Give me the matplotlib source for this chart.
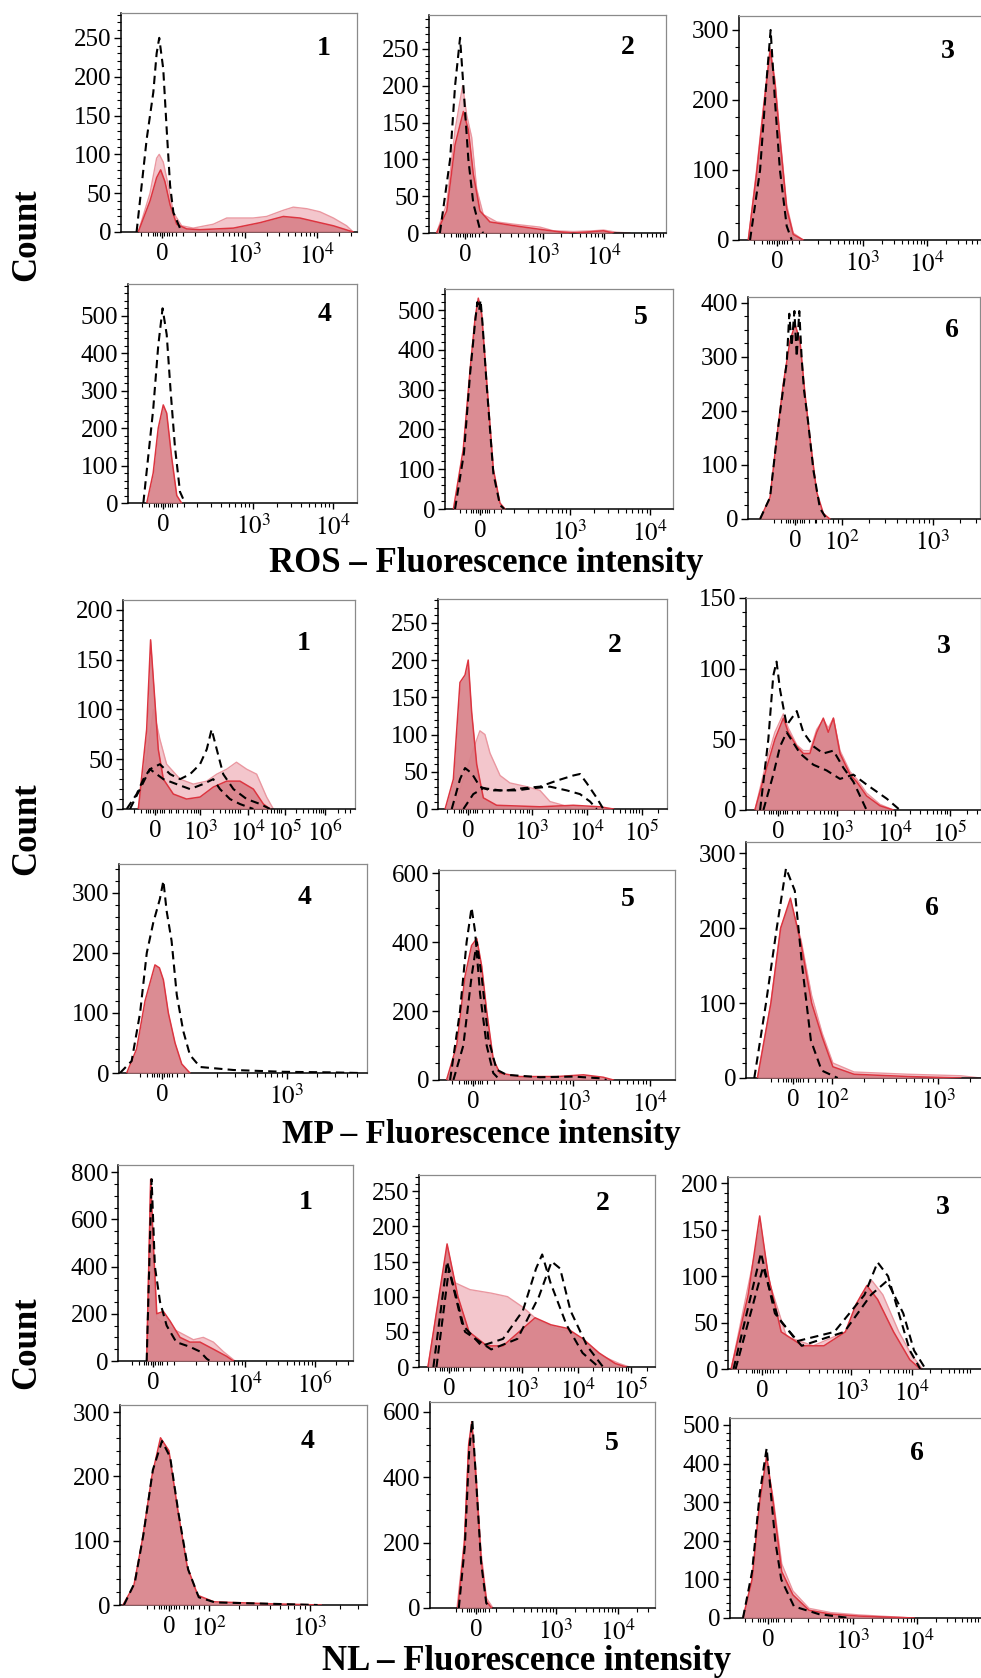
import numpy as np
import matplotlib
matplotlib.use("Agg")
from matplotlib import pyplot as plt

plt.rcParams['font.family'] = ['Liberation Serif', 'DejaVu Serif']
plt.rcParams['mathtext.fontset'] = 'stix'

# x values are positions across each panel (0-100), y values are counts

# ROS
ROS1_LIGHT = [(7.3, 0), (12.3, 50), (15.1, 95), (16.2, 100), (17.9, 90), (20, 60), (22.2, 25), (25.7, 8), (30.6, 5),
              (39.1, 10), (44.8, 18), (50.4, 18), (56, 18), (61.7, 20), (68.8, 28), (73, 32), (78.7, 30), (84.3, 26),
              (90, 18), (95.6, 8), (98.4, 0)]
ROS1_DARK = [(7.3, 0), (12.3, 40), (15.1, 70), (16.8, 80), (18.6, 65), (20.8, 35), (23.6, 10), (27.8, 4), (33.5, 3),
             (47.6, 5), (58.9, 12), (68.8, 20), (75.8, 18), (84.3, 12), (90, 8), (98.4, 0)]
ROS1_DASH = [[(6.6, 0), (10.9, 120), (13.7, 180), (15.1, 230), (16.2, 250), (17.9, 210), (19.4, 130), (20.8, 60),
              (22.2, 25), (25.7, 0)]]

ROS2_LIGHT = [(3.2, 0), (7.5, 40), (11, 140), (14.2, 200), (15.9, 160), (18, 130), (20.1, 60), (22.9, 25), (28.6, 15),
              (35.6, 12), (46.8, 8), (52.5, 3), (60.9, 2), (69.3, 3), (73.6, 4), (79.2, 1), (84.8, 0)]
ROS2_DARK = [(3.2, 0), (7.5, 30), (11, 120), (14.5, 165), (16.6, 140), (18.7, 80), (21.5, 30), (25.7, 15), (35.6, 10),
             (46.8, 5), (53.9, 2), (60.9, 0), (69.3, 2), (73.6, 3), (77.8, 0)]
ROS2_DASH = [[(4.6, 0), (8.9, 100), (11, 200), (13.1, 265), (14.5, 200), (16.6, 100), (18.7, 40), (21.5, 5), (22.9, 0)]]

ROS3_LIGHT = [(3.7, 0), (7, 100), (9.7, 190), (12.4, 275), (14.3, 230), (16.3, 150), (19, 50), (21.6, 10), (25.6, 0)]
ROS3_DARK = [(3.7, 0), (7, 95), (9.7, 185), (12.4, 270), (14.3, 225), (16.3, 145), (19, 45), (21.6, 8), (25.6, 0)]
ROS3_DASH = [[(4.4, 0), (8.4, 100), (10.8, 220), (12.6, 300), (14.3, 200), (16.3, 100), (19, 20), (21, 0)]]

ROS4_DARK = [(8.2, 0), (11, 80), (13.2, 200), (15.4, 262), (16.9, 240), (19.1, 120), (21.3, 20), (23.4, 0)]
ROS4_DASH = [[(6.7, 0), (11, 250), (13.2, 420), (15.1, 520), (16.9, 450), (18.6, 300), (20.5, 150), (22.7, 30),
              (24.9, 0)]]

ROS5_DARK = [(3.7, 0), (8, 150), (11, 350), (13.2, 480), (14.6, 530), (16.1, 490), (18.3, 320), (21.2, 100),
             (24.1, 15), (26.3, 0)]
ROS5_DASH = [[(4.4, 0), (8.3, 140), (11, 340), (13.2, 470), (14.2, 520), (15, 500), (15.6, 525), (16.4, 470),
              (18.3, 310), (21.2, 90), (24.1, 10), (26, 0)]]

ROS6_DARK = [(5.2, 0), (9.5, 40), (12.4, 150), (15.2, 250), (18.1, 330), (20.3, 360), (22.4, 330), (24.6, 230),
             (26.7, 150), (29.6, 50), (32.5, 10), (35.3, 0)]
ROS6_DASH = [[(5.2, 0), (9.5, 40), (12.4, 150), (14.5, 220), (16.7, 290), (17.8, 380), (18.8, 320), (20, 385),
              (21, 300), (22.1, 385), (23.1, 300), (24.1, 240), (25.9, 180), (28.2, 90), (31, 20), (33.9, 0)]]

# MP
MP1_LIGHT = [(6.6, 0), (10.2, 50), (13.1, 100), (15.9, 70), (18.8, 45), (24.6, 30), (30.3, 25), (36.1, 28), (40.4, 35),
             (44.7, 40), (48.9, 47), (53.3, 40), (57.6, 35), (61.9, 12), (64.8, 0)]
MP1_DARK = [(6.6, 0), (10.2, 80), (11.9, 170), (13.4, 120), (15.2, 60), (17.4, 30), (21.7, 15), (27.4, 10), (33.2, 12),
            (38.9, 22), (44.7, 28), (50.4, 28), (56.2, 20), (60.5, 5), (63.4, 0)]
MP1_DASH = [[(1.6, 0), (5.9, 15), (8.8, 30), (11.6, 40), (15.9, 45), (20.3, 35), (24.6, 30), (28.9, 35), (33.2, 45),
             (36.1, 60), (38.2, 80), (40.4, 60), (43.2, 35), (47.6, 20), (53.3, 10), (59.1, 5), (63.4, 0)],
            [(3, 0), (7.3, 20), (11.6, 40), (17.4, 30), (23.1, 25), (28.9, 20), (34.5, 25), (38.9, 30), (41.8, 20),
             (46.1, 10), (50.4, 5), (56.2, 0)]]

MP2_LIGHT = [(6.7, 0), (11.1, 40), (15.4, 80), (18.3, 105), (20.5, 100), (22.7, 75), (27.1, 45), (31.4, 35),
             (38.7, 30), (44.5, 25), (48.9, 10), (54.7, 5), (59.1, 0)]
MP2_DARK = [(3.1, 0), (6.7, 40), (9.6, 170), (11.8, 180), (13.2, 200), (14.7, 130), (16.9, 60), (19.8, 15), (25.6, 5),
            (44.5, 3), (59.1, 5), (70.7, 3), (76.6, 0)]
MP2_DASH = [[(6, 0), (9.6, 40), (11.8, 55), (14.7, 48), (18.3, 30), (22.7, 25), (30, 25), (37.3, 28), (44.5, 30),
             (51.8, 38), (59.1, 45), (62, 47), (64.9, 35), (69.3, 15), (72.2, 0)],
            [(11.1, 0), (15.4, 20), (19.8, 28), (27.1, 25), (34.4, 25), (41.6, 28), (48.9, 30), (56.2, 25), (62, 20),
             (66.4, 10), (69.3, 0)]]

MP3_LIGHT = [(3.8, 0), (8.8, 35), (12.3, 55), (15.9, 68), (18, 58), (21.6, 46), (24.4, 42), (27.2, 42), (30.1, 57),
             (32.9, 64), (35, 58), (37.2, 65), (40, 42), (44.3, 27), (47.1, 22), (51.3, 12), (57, 4), (62.7, 0)]
MP3_DARK = [(3.8, 0), (8.8, 30), (12.3, 50), (15.9, 65), (18, 55), (21.6, 45), (24.4, 40), (27.2, 40), (30.1, 55),
            (32.9, 65), (35, 55), (37.2, 65), (40, 40), (44.3, 25), (47.1, 20), (51.3, 10), (57, 3), (62.7, 0)]
MP3_DASH = [[(6, 0), (9.5, 50), (11.6, 95), (13, 105), (14.5, 85), (17.3, 60), (21.6, 70), (24.4, 55), (28.7, 45),
             (32.9, 40), (37.2, 42), (41.4, 30), (45.7, 20), (48.5, 10), (51.3, 0)],
            [(7.4, 0), (11.6, 25), (14.5, 45), (17.3, 55), (23, 40), (28.7, 32), (34.3, 28), (40, 22), (45.7, 25),
             (51.3, 18), (59.9, 8), (65.5, 0)]]

MP4_DARK = [(3.1, 0), (7.1, 40), (10.5, 120), (12.5, 150), (14.5, 180), (16.3, 175), (17.9, 155), (19.9, 100),
            (22.6, 50), (25.3, 15), (28.6, 0)]
MP4_DASH = [[(0.4, 0), (5.1, 20), (8.5, 100), (11.2, 200), (13.8, 250), (16.5, 290), (17.9, 320), (19.2, 270),
             (21.2, 220), (23.3, 130), (25.9, 70), (28.6, 30), (32.7, 10), (46.1, 5), (66.3, 2), (86.4, 1), (97, 0)]]

MP5_DARK = [(3.2, 0), (7.5, 100), (11, 300), (13.8, 390), (16, 410), (18.1, 330), (20.2, 200), (23, 60), (25.8, 20),
            (34.3, 10), (49.9, 10), (61.2, 15), (69.6, 8), (73.9, 0)]
MP5_DASH = [[(4.7, 0), (8.9, 200), (11.7, 400), (13.8, 500), (15.3, 430), (17.4, 250), (20.2, 100), (23, 20),
             (25.8, 0)],
            [(6.1, 0), (10.3, 100), (13.8, 300), (16, 400), (18.1, 300), (20.9, 120), (24.4, 30), (28.7, 15),
             (42.8, 8), (56.9, 10), (68.2, 5), (71, 0)]]

MP6_LIGHT = [(4.7, 0), (10.2, 100), (14.2, 200), (18.2, 235), (22.5, 185), (26.9, 110), (31.2, 60), (35.6, 20),
             (44.3, 8), (66.3, 5), (88, 3), (96, 0)]
MP6_DARK = [(4.7, 0), (10.2, 100), (14.2, 200), (18.2, 240), (22.5, 180), (26.9, 100), (31.2, 55), (35.6, 15),
            (44.3, 5), (66.3, 2), (88, 0)]
MP6_DASH = [[(3.4, 0), (8.2, 100), (12.6, 200), (16.4, 280), (20, 250), (23, 150), (26.6, 50), (31, 10), (37.6, 0)]]

# NL
NL1_LIGHT = [(12.2, 0), (13.9, 750), (15, 340), (16.5, 180), (20.7, 150), (26.4, 120), (32.1, 90), (36.3, 100),
             (40.6, 80), (44.8, 40), (49.8, 0)]
NL1_DARK = [(12.2, 0), (13.9, 770), (15, 500), (16.5, 200), (19.3, 210), (22.1, 170), (26.4, 100), (30.6, 80),
            (34.9, 80), (40.6, 50), (46.2, 20), (49.1, 0)]
NL1_DASH = [[(12.2, 0), (14.3, 770), (15.7, 400), (17.9, 250), (20.7, 150), (24.8, 80), (30.6, 60), (34.9, 40),
             (37.7, 10), (39.1, 0)]]

NL2_LIGHT = [(3.8, 0), (11.9, 170), (15.1, 120), (21.6, 110), (30.6, 105), (37.5, 100), (44, 85), (50.8, 65),
             (57.6, 55), (64.4, 50), (71.2, 30), (78, 15), (84.8, 5), (89.2, 0)]
NL2_DARK = [(3.8, 0), (11.9, 175), (16.5, 100), (21.2, 50), (28.8, 30), (35.6, 30), (42.4, 50), (49.2, 70),
            (55.9, 60), (62.7, 55), (69.5, 40), (76.3, 20), (83.1, 5), (87.7, 0)]
NL2_DASH = [[(6.1, 0), (11.9, 150), (18.4, 60), (26.5, 30), (35.6, 40), (44, 80), (49.6, 140), (52.2, 160),
             (55.7, 120), (62.5, 60), (69.3, 20), (76.1, 0)],
            [(7.4, 0), (12.7, 140), (19.5, 50), (30.6, 25), (41.7, 40), (50.8, 100), (56.2, 150), (59.8, 140),
             (64.2, 80), (71.2, 30), (78, 0)]]

NL3_LIGHT = [(1.2, 0), (12.1, 150), (16.2, 90), (22.3, 35), (32.5, 25), (44.8, 40), (50.9, 80), (55, 95), (59.1, 80),
             (65.2, 40), (70.1, 15), (74.2, 0)]
NL3_DARK = [(1.2, 0), (7.7, 80), (12.1, 165), (15.4, 100), (20.3, 40), (28.5, 25), (36.6, 25), (44.8, 40), (48.9, 70),
            (53, 90), (57.1, 75), (63.2, 40), (69.4, 10), (73.4, 0)]
NL3_DASH = [[(2.1, 0), (12.6, 125), (17.9, 60), (26.3, 30), (40.6, 40), (52.1, 80), (57.1, 115), (61.1, 100),
             (65.2, 60), (69.4, 20), (73.4, 0)],
            [(2.9, 0), (13.4, 110), (19.1, 55), (28.1, 25), (44.4, 40), (54.6, 80), (60.7, 95), (66.9, 60),
             (71, 20), (75.4, 0)]]

NL4_DARK = [(1.2, 0), (5.6, 30), (9, 100), (12.9, 200), (16.4, 260), (19.8, 240), (23.3, 150), (27.2, 60),
            (31.5, 15), (38, 5), (59.7, 2), (81.4, 0)]
NL4_DASH = [[(1.6, 0), (6, 35), (9.5, 110), (13.3, 210), (17, 255), (20.3, 230), (23.8, 140), (27.6, 55), (31.9, 12),
             (38.5, 4), (60, 2), (80, 0)]]

NL5_LIGHT = [(12, 0), (15.3, 210), (17.2, 500), (18.6, 560), (20.4, 420), (22.7, 170), (25.1, 30), (28, 0)]
NL5_DARK = [(12.4, 0), (15.3, 200), (17.2, 500), (18.6, 570), (20.4, 400), (22.7, 150), (25.1, 20), (27.4, 0)]
NL5_DASH = [[(12.8, 0), (15.5, 190), (17.4, 480), (18.8, 575), (20.5, 390), (22.7, 140), (25, 15), (27, 0)]]

NL6_LIGHT = [(5, 0), (8.5, 100), (11.4, 300), (14.1, 410), (16.6, 310), (19.9, 140), (24.2, 70), (30.4, 25),
             (38.8, 14), (49.5, 8), (70.8, 0)]
NL6_DARK = [(5, 0), (8.5, 100), (11.4, 300), (14.1, 420), (16.6, 300), (19.9, 120), (24.2, 60), (30.4, 20),
            (38.8, 10), (49.5, 5), (70.8, 0)]
NL6_DASH = [[(5, 0), (8.5, 120), (11.4, 320), (14.1, 440), (17.4, 200), (19.7, 100), (24.6, 30), (34.2, 10),
             (46, 0)]]

# x tick labels (position, decade exponent or None for "0")
ROS1_XT = [(17.4, None), (52.5, 3), (83, 4)]
ROS2_XT = [(15.2, None), (48, 3), (74, 4)]
ROS3_XT = [(15.1, None), (49.4, 3), (74.9, 4)]
ROS4_XT = [(15.3, None), (54.6, 3), (89.5, 4)]
ROS5_XT = [(15.4, None), (54.8, 3), (90, 4)]
ROS6_XT = [(20.3, None), (40.5, 2), (79.7, 3)]
MP1_XT = [(13.8, None), (33.2, 3), (53.9, 4), (69.8, 5), (87.1, 6)]
MP2_XT = [(13.1, None), (41, 3), (65, 4), (89, 5)]
MP3_XT = [(13.6, None), (38.7, 3), (63.4, 4), (86.8, 5)]
MP4_XT = [(17.3, None), (67.7, 3)]
MP5_XT = [(14.4, None), (56.8, 3), (89.4, 4)]
MP6_XT = [(19.3, None), (35.2, 2), (78.7, 3)]
NL1_XT = [(14.9, None), (54, 4), (83.8, 6)]
NL2_XT = [(12.7, None), (43.6, 3), (67.4, 4), (89.8, 5)]
NL3_XT = [(13, None), (47, 3), (70.2, 4)]
NL4_XT = [(19.8, None), (36, 2), (76.9, 3)]
NL5_XT = [(20.4, None), (56, 3), (83.6, 4)]
NL6_XT = [(14.6, None), (47.3, 3), (71.9, 4)]

LIGHT_FILL = '#f3c6cc'
LIGHT_EDGE = '#ea97a0'
DARK_FILL = '#d8828a'
DARK_EDGE = '#dc3540'

W, H = 981, 1678
fig = plt.figure(figsize=(W / 100, H / 100), dpi=100)


def xy(points):
    a = np.array(points, dtype=float)
    return a[:, 0], a[:, 1]


def minor_positions(xt):
    dec = [p for p, e in xt if e is not None]
    zero = [p for p, e in xt if e is None][0]
    if len(dec) >= 2:
        d = (dec[-1] - dec[0]) / (len(dec) - 1)
    else:
        d = (dec[0] - zero) * 0.8
    out = []
    start = dec[0] - d
    while start < 100:
        for k in range(2, 10):
            p = start + d * np.log10(k)
            if zero + 6 < p < 99:
                out.append(p)
        start += d
    for s in (-9, -6, -4, -3, -2, -1, 1, 2, 3, 4, 6, 9):
        if 1 < zero + s < 99:
            out.append(zero + s)
    return out


def panel(rect, light, dark, dashes, ymax, ymajor, yminor, xt, num, numpos):
    L, R, T, B = rect
    ax = fig.add_axes([L / W, 1 - B / H, (R - L) / W, (B - T) / H])
    if light is not None:
        x, y = xy(light)
        ax.fill_between(x, y, color=LIGHT_FILL, lw=0, zorder=1)
        ax.plot(x, y, color=LIGHT_EDGE, lw=1.0, zorder=2)
    x, y = xy(dark)
    ax.fill_between(x, y, color=DARK_FILL, alpha=0.92, lw=0, zorder=3)
    ax.plot(x, y, color=DARK_EDGE, lw=1.1, zorder=4)
    for d in dashes:
        x, y = xy(d)
        ax.plot(x, y, color='black', lw=1.5, dashes=(4, 2.5), zorder=5)

    ax.set_xlim(0, 100)
    ax.set_ylim(0, ymax)
    ax.set_yticks(np.arange(0, ymax + 1, ymajor))
    ax.set_yticks(np.arange(0, ymax, yminor), minor=True)
    ax.set_xticks([p for p, e in xt])
    ax.set_xticklabels(['0' if e is None else r'$10^{%d}$' % e for p, e in xt])
    ax.set_xticks(minor_positions(xt), minor=True)
    ax.tick_params(axis='both', which='major', labelsize=18, color='black', width=1.0)
    ax.tick_params(axis='y', which='major', length=5, pad=2)
    ax.tick_params(axis='y', which='minor', length=3, width=0.8)
    ax.tick_params(axis='x', which='major', length=4, pad=4)
    ax.tick_params(axis='x', which='minor', length=3, width=0.8)
    for s in ('top', 'right'):
        ax.spines[s].set_color('#8a8a8a')
        ax.spines[s].set_linewidth(0.9)
    for s in ('left', 'bottom'):
        ax.spines[s].set_color('black')
        ax.spines[s].set_linewidth(1.1)
    ax.text(numpos[0], numpos[1], str(num), transform=ax.transAxes, fontsize=20,
            fontweight='bold', ha='center', va='center')
    return ax


# ROS block
panel((121, 357, 13, 232), ROS1_LIGHT, ROS1_DARK, ROS1_DASH, 282, 50, 10, ROS1_XT, 1, (0.86, 0.84))
panel((429, 666, 15, 233), ROS2_LIGHT, ROS2_DARK, ROS2_DASH, 296, 50, 10, ROS2_XT, 2, (0.84, 0.85))
panel((739, 990, 16, 240), ROS3_LIGHT, ROS3_DARK, ROS3_DASH, 320, 100, 25, ROS3_XT, 3, (0.83, 0.84))
panel((128, 357, 284, 503), None, ROS4_DARK, ROS4_DASH, 585, 100, 20, ROS4_XT, 4, (0.86, 0.86))
panel((445, 673, 289, 509), None, ROS5_DARK, ROS5_DASH, 553, 100, 20, ROS5_XT, 5, (0.86, 0.87))
panel((748, 980, 297, 519), None, ROS6_DARK, ROS6_DASH, 411, 100, 25, ROS6_XT, 6, (0.88, 0.85))

# MP block
panel((123, 355, 600, 809), MP1_LIGHT, MP1_DARK, MP1_DASH, 210, 50, 10, MP1_XT, 1, (0.78, 0.79))
panel((438, 667, 599, 809), MP2_LIGHT, MP2_DARK, MP2_DASH, 282, 50, 10, MP2_XT, 2, (0.77, 0.78))
panel((746, 981, 598, 810), MP3_LIGHT, MP3_DARK, MP3_DASH, 150, 50, 10, MP3_XT, 3, (0.84, 0.77))
panel((119, 367, 864, 1073), None, MP4_DARK, MP4_DASH, 348, 100, 20, MP4_XT, 4, (0.75, 0.84))
panel((439, 675, 870, 1080), None, MP5_DARK, MP5_DASH, 609, 200, 50, MP5_XT, 5, (0.80, 0.86))
panel((746, 990, 842, 1078), MP6_LIGHT, MP6_DARK, MP6_DASH, 315, 100, 20, MP6_XT, 6, (0.76, 0.72))

# NL block
panel((118, 353, 1165, 1361), NL1_LIGHT, NL1_DARK, NL1_DASH, 830, 200, 50, NL1_XT, 1, (0.80, 0.81))
panel((419, 655, 1175, 1367), NL2_LIGHT, NL2_DARK, NL2_DASH, 273, 50, 10, NL2_XT, 2, (0.78, 0.85))
panel((728, 990, 1177, 1369), NL3_LIGHT, NL3_DARK, NL3_DASH, 207, 50, 10, NL3_XT, 3, (0.82, 0.84))
panel((120, 367, 1405, 1605), None, NL4_DARK, NL4_DASH, 311, 100, 20, NL4_XT, 4, (0.76, 0.82))
panel((430, 655, 1402, 1608), NL5_LIGHT, NL5_DARK, NL5_DASH, 630, 200, 50, NL5_XT, 5, (0.81, 0.80))
panel((730, 990, 1418, 1618), NL6_LIGHT, NL6_DARK, NL6_DASH, 518, 100, 20, NL6_XT, 6, (0.72, 0.82))

# group labels
fig.text(486 / W, 1 - 564 / H, "ROS \u2013 Fluorescence intensity", fontsize=25, fontweight='bold',
         ha='center', va='center')
fig.text(481 / W, 1 - 1135 / H, "MP \u2013 Fluorescence intensity", fontsize=24, fontweight='bold',
         ha='center', va='center')
fig.text(527 / W, 1 - 1661 / H, "NL \u2013 Fluorescence intensity", fontsize=25, fontweight='bold',
         ha='center', va='center')
for yc in (235, 829, 1343):
    fig.text(27 / W, 1 - yc / H, "Count", fontsize=25, fontweight='bold', rotation=90,
             ha='center', va='center')

fig.savefig("out.png", dpi=100)
